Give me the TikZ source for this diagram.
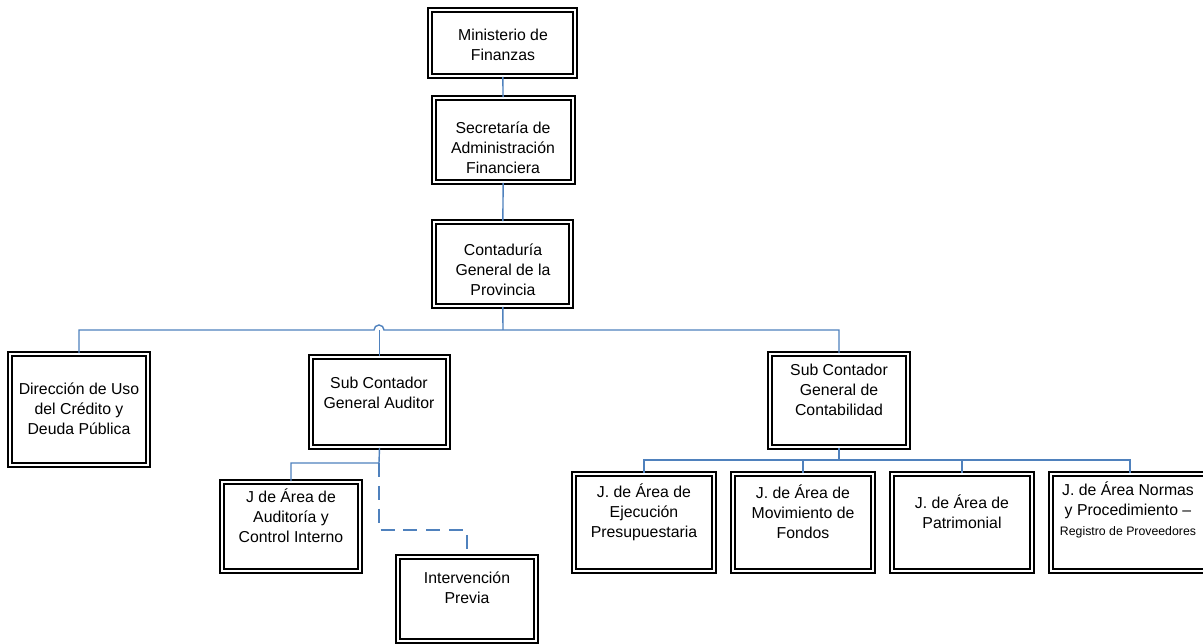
\documentclass[tikz,border=0pt]{standalone}
\usepackage{fontspec}
\setmainfont{Liberation Sans}
\usetikzlibrary{fit}
\definecolor{linkblue}{RGB}{79,129,189}

\begin{document}
\begin{tikzpicture}[x=0.02cm,y=-0.02cm,
  box/.style={draw=black, double=white, line width=0.9pt, double distance=1.3pt, inner sep=0pt},
  txt/.style={align=center, inner sep=0pt, font=\fontsize{9}{11.3}\selectfont},
  link/.style={draw=linkblue, line width=0.8pt}]
  \useasboundingbox (0,0) rectangle (1203,644);

  % Top of the chart
  \node[box, fit={(430,10) (575,76)}] (min) {};
  \node[txt] (min-t) at (503,45) {Ministerio de\\Finanzas};
  \node[box, fit={(434,98) (573,182)}] (sec) {};
  \node[txt] (sec-t) at (503,148) {Secretaría de\\Administración\\Financiera};
  \node[box, fit={(434,222) (571,306)}] (cont) {};
  \node[txt] (cont-t) at (503,270) {Contaduría\\General de la\\Provincia};

  % Second level
  \node[box, fit={(10,354) (148,465)}] (dir) {};
  \node[txt] (dir-t) at (79,409) {Dirección de Uso\\del Crédito y\\Deuda Pública};
  \node[box, fit={(311,357) (448,447)}] (aud) {};
  \node[txt] (aud-t) at (379,393) {Sub Contador\\General Auditor};
  \node[box, fit={(770,354) (908,447)}] (con) {};
  \node[txt] (con-t) at (839,390) {Sub Contador\\General de\\Contabilidad};

  % Under the auditor
  \node[box, fit={(222,482) (360,571)}] (jaud) {};
  \node[txt] (jaud-t) at (291,516) {J de Área de\\Auditoría y\\Control Interno};
  \node[box, fit={(398,557) (536,641)}] (interv) {};
  \node[txt] (interv-t) at (467,588) {Intervención\\Previa};

  % Under contabilidad
  \node[box, fit={(574,474) (714,571)}] (ejec) {};
  \node[txt] (ejec-t) at (644,512) {J. de Área de\\Ejecución\\Presupuestaria};
  \node[box, fit={(733,474) (873,571)}] (mov) {};
  \node[txt] (mov-t) at (803,512) {J. de Área de\\Movimiento de\\Fondos};
  \node[box, fit={(892,474) (1032,571)}] (patr) {};
  \node[txt] (patr-t) at (962,512) {J. de Área de\\Patrimonial};
  \node[box, fit={(1051,474) (1208,571)}] (norm) {};
  \node[txt] (norm-t) at (1128,510) {J. de Área Normas\\y Procedimiento --\\{\fontsize{7}{10}\selectfont Registro de Proveedores}};

  % Connectors
  \coordinate (bus) at (503,330);
  \coordinate (audbus) at (379,463);
  \coordinate (conbus) at (839,460);
  \draw[link] (min) -- (sec);
  \draw[link] (sec) -- (cont);
  \draw[link] (cont) -- (bus);
  \draw[link] (dir.north) |- (374,330) arc (180:360:5) -- (con.north |- bus) -- (con.north);
  \draw[link] (aud.north) -- (aud.north |- bus);
  \draw[link] (aud.south) -- (audbus) -| (jaud.north);
  \draw[link, dashed, dash pattern=on 8pt off 5pt] (audbus) -- (379,530) -| (interv.north);
  \draw[link] (con.south) -- (conbus);
  \draw[link] (ejec.north) |- (conbus) -| (norm.north -| 1130,0);
  \draw[link] (mov.north) -- (mov.north |- conbus);
  \draw[link] (patr.north) -- (patr.north |- conbus);
\end{tikzpicture}
\end{document}
